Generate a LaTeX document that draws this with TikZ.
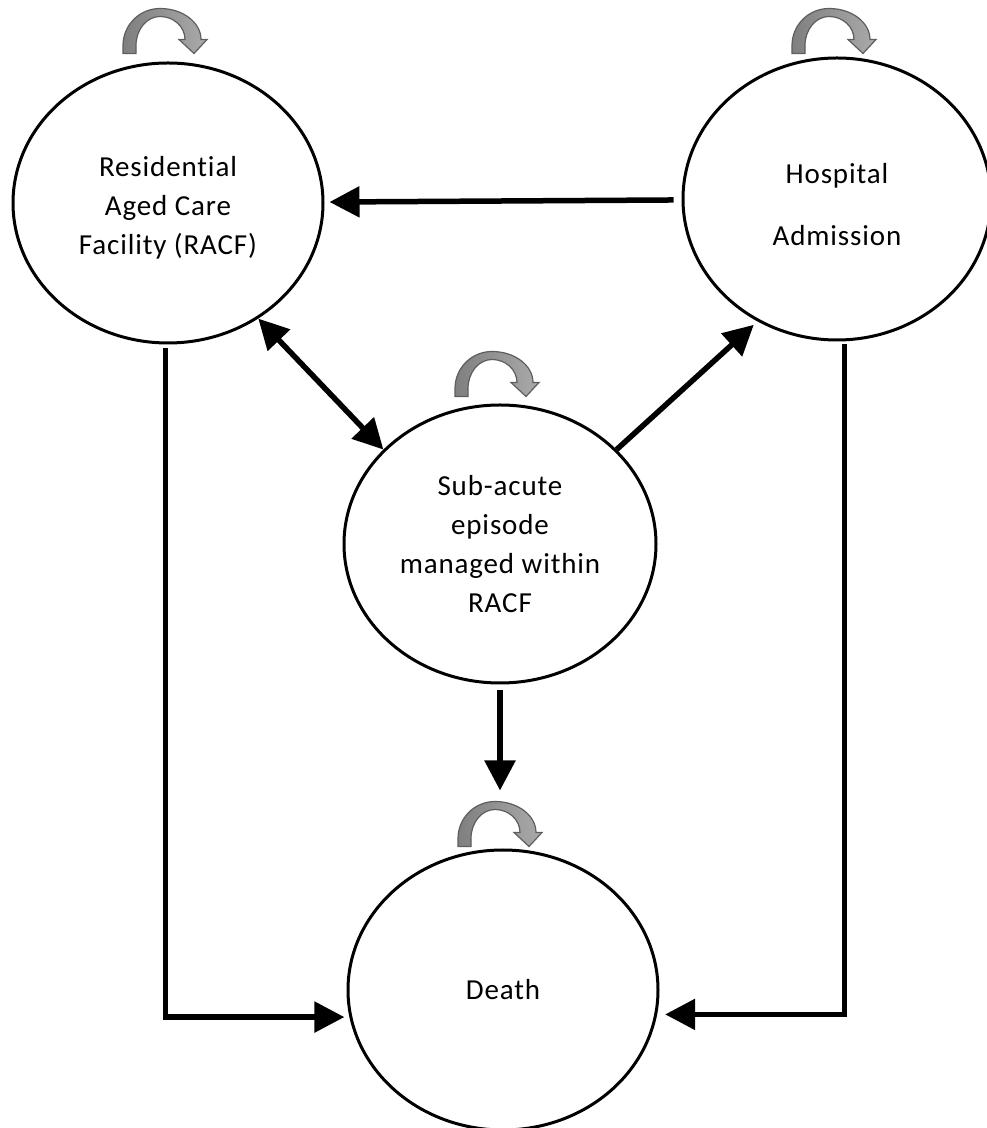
\documentclass[tikz,border=0pt]{standalone}
\usepackage{fontspec}
\setmainfont{Carlito}[Ligatures=NoCommon, LetterSpace=3]
\usepackage{tikz}
\usetikzlibrary{arrows.meta,shapes.geometric}

\definecolor{loopdark}{HTML}{7F7F7F}
\definecolor{looplight}{HTML}{AAAAAA}
\definecolor{loopline}{HTML}{5E5E5E}

\begin{document}
\begin{tikzpicture}[x=1pt,y=1pt]
		% Define styles for states, transitions and self-loops
		\tikzset{state/.style={draw, ellipse, line width=3pt, minimum width=310pt, minimum height=280pt, inner sep=0pt, align=center, font=\fontsize{29pt}{39pt}\selectfont},
			>={Triangle[length=30pt,width=30pt]},
			link/.style={line width=5.5pt},
			selfloop/.pic={
				\path[draw=loopline, line width=1.2pt, left color=loopdark, right color=looplight]
				(0,0) -- (0,8) arc[start angle=180, end angle=90, x radius=37, y radius=37]
				arc[start angle=90, end angle=0, x radius=41, y radius=31]
				-- (84,14) -- (71,0) -- (56,14) -- (62,14)
				arc[start angle=0, end angle=90, x radius=25, y radius=23]
				arc[start angle=90, end angle=180, x radius=24, y radius=29]
				-- (13,0) -- cycle;
			}}
		
		\useasboundingbox (0,0) rectangle (986,1128);
		
		% Draw the four states
		\node[state] (racf) at (168,925) {\rule{0pt}{30pt}Residential\\Aged Care\\Facility (RACF)};
		\node[state, minimum width=308pt, minimum height=282pt] (hosp) at (837,929) {\rule{0pt}{32pt}Hospital\\[23pt]Admission};
		\node[state, minimum width=312pt, minimum height=278pt] (sub) at (500,584) {Sub-acute\\episode\\managed within\\RACF};
		\node[state] (death) at (503,138) {Death};
		
		% Draw the self-loops above the states
		\foreach \n/\dy in {racf/8, hosp/3, sub/7, death/2}
			\pic at ([shift={(-45,\dy)}]\n.north) {selfloop};
		
		% Draw the transitions between the states
		\draw[link,->, shorten <=8pt, shorten >=5pt] (hosp) -- (racf);
		\draw[link,<->] (racf.-52) -- (sub.141);
		\draw[link,->, shorten >=5pt] (sub.39) -- (hosp.-123);
		\draw[link,->, shorten <=6pt, shorten >=58pt] (sub.south) -- (sub.south |- death.north);
		\draw[link,->, shorten <=4pt, shorten >=5pt] (racf.-91) |- (death.190);
		\draw[link,->, shorten <=3pt, shorten >=8pt] (hosp.-87) |- (death.-9);
	\end{tikzpicture}
\end{document}
